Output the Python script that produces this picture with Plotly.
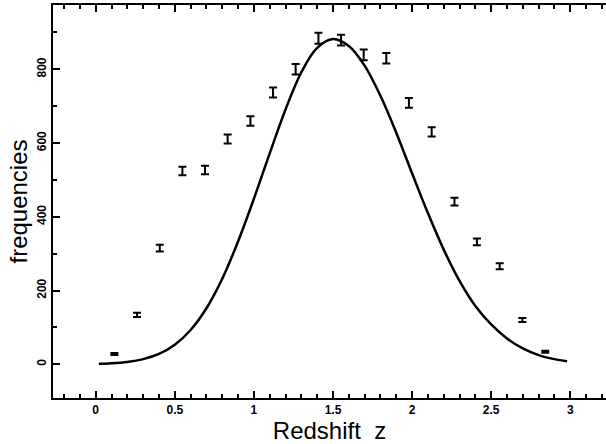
import plotly.graph_objects as go

# Binned redshift counts with their error bars
z_bins = [0.118, 0.261, 0.405, 0.548, 0.691, 0.834, 0.978, 1.121, 1.264, 1.408,
          1.551, 1.694, 1.837, 1.980, 2.124, 2.268, 2.410, 2.554, 2.697, 2.842]
counts = [28, 134, 315, 524, 527, 611, 660, 737, 800, 884,
          879, 839, 830, 709, 630, 441, 332, 266, 120, 34]
count_err = [2.6, 5.8, 8.9, 11.4, 11.5, 12.4, 12.8, 13.6, 14.1, 14.9,
             14.8, 14.5, 14.4, 13.3, 12.5, 10.5, 9.1, 8.2, 5.5, 2.9]

# Model curve sampled along z
z_model = [0.02, 0.1, 0.2, 0.3, 0.4, 0.5, 0.6, 0.7, 0.8, 0.9, 1.0, 1.1, 1.2, 1.3, 1.4,
           1.5, 1.6, 1.7, 1.8, 1.9, 2.0, 2.1, 2.2, 2.3, 2.4, 2.5, 2.6, 2.7, 2.8, 2.9, 2.98]
f_model = [1.4, 2.8, 6.5, 14, 28, 53, 93, 152, 232, 333, 449, 572, 691, 792, 858,
           882, 863, 810, 728, 628, 518, 410, 311, 226, 158, 108, 70, 43, 25, 14, 8]

fig = go.Figure()

fig.add_trace(go.Scatter(
    x=z_model, y=f_model, mode="lines",
    line=dict(color="black", width=2.5, shape="spline", smoothing=1.0),
    showlegend=False, hoverinfo="skip",
))

fig.add_trace(go.Scatter(
    x=z_bins, y=counts, mode="markers",
    marker=dict(size=1, color="rgba(0,0,0,0)"),
    error_y=dict(type="data", array=count_err, visible=True,
                 color="black", thickness=2, width=4),
    showlegend=False,
))

tick_font = dict(family="Liberation Sans, Arial, sans-serif", size=12,
                 color="black", weight="bold")
title_font = dict(family="Liberation Sans, Arial, sans-serif", size=24, color="black")

fig.update_xaxes(
    range=[-0.27, 3.226],
    tickmode="array", tickvals=[0, 0.5, 1, 1.5, 2, 2.5, 3],
    ticktext=["0", "0.5", "1", "1.5", "2", "2.5", "3"],
    ticks="inside", ticklen=7, tickwidth=2, tickcolor="black",
    minor=dict(dtick=0.1, tick0=0, ticks="inside", ticklen=4, tickwidth=1.5,
               tickcolor="black"),
    showline=True, linecolor="black", linewidth=2, mirror="allticks",
    showgrid=False, zeroline=False,
    tickfont=tick_font,
    title=dict(text="Redshift  z", font=title_font, standoff=2),
)

fig.update_yaxes(
    range=[-91.4, 974.3],
    tickmode="array", tickvals=[0, 200, 400, 600, 800],
    ticktext=["0", "200", "400", "600", "800"],
    tickangle=-90,
    ticks="inside", ticklen=7, tickwidth=2, tickcolor="black",
    minor=dict(dtick=100, tick0=0, ticks="inside", ticklen=4, tickwidth=1.5,
               tickcolor="black"),
    showline=True, linecolor="black", linewidth=2,
    showgrid=False, zeroline=False,
    tickfont=tick_font,
    title=dict(text="frequencies", font=title_font, standoff=1),
)

fig.update_layout(
    width=606, height=444,
    margin=dict(l=53, r=0, t=5, b=46),
    paper_bgcolor="white", plot_bgcolor="white",
)

fig.write_html("out.html")
